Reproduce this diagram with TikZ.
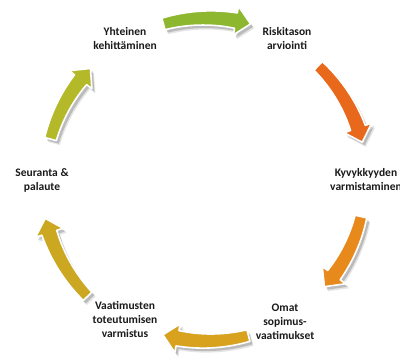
\documentclass[tikz,border=0pt]{standalone}
\usepackage{fontspec}
\setmainfont{Carlito}
\definecolor{cgreen}{HTML}{8DB72E}
\definecolor{cred}{HTML}{E8681C}
\definecolor{corange}{HTML}{E8891C}
\definecolor{cgold}{HTML}{D8A11E}
\definecolor{cmustard}{HTML}{CBA722}
\definecolor{colive}{HTML}{B4B92A}
\definecolor{txt}{HTML}{1A1A1A}
\newcommand{\cycarrow}[4]{% radius, tail angle, tip angle, colour
  \pgfmathsetmacro{\hl}{15/#1*180/pi}%
  \pgfmathsetmacro{\ah}{#3+\hl}%
  \pgfmathsetmacro{\rho}{#1+14.5}%
  \pgfmathsetmacro{\rhi}{#1-14.5}%
  \def\arrowpath{plot[domain=#2:\ah, samples=25] (\x:{#1+6+1.8*(\x-#2)/(\ah-#2)}) -- (\ah:\rho) -- (#3:#1) -- (\ah:\rhi) -- plot[domain=\ah:#2, samples=25] (\x:{#1-6-1.8*(\x-#2)/(\ah-#2)}) -- cycle}%
  \begin{scope}[shift={(c)}]
    \fill[black, opacity=0.10, shift={(3.5,-4.5)}] \arrowpath;
    \fill[black, opacity=0.18, shift={(2.5,-3)}] \arrowpath;
    \filldraw[fill=#4, draw=white, line width=1.6, line join=round] \arrowpath;
  \end{scope}}
\tikzset{lbl/.style={align=center, text=txt, font=\bfseries\fontsize{11.5}{14}\selectfont, inner sep=0pt}}
\begin{document}
\begin{tikzpicture}[x=1pt,y=1pt]
\useasboundingbox (0,0) rectangle (400,360);
\fill[white] (0,0) rectangle (400,360);
\coordinate (c) at (207,179);
\cycarrow{163}{105.5}{74.5}{cgreen}
\cycarrow{160}{46}{14}{cred}
\cycarrow{158}{-13}{-42}{corange}
\cycarrow{160}{-75}{-106}{cgold}
\cycarrow{166}{-136}{-167}{cmustard}
\cycarrow{162}{165}{136}{colive}
\node[lbl] (yk) at (125,321) {Yhteinen\\kehittäminen};
\node[lbl] (ra) at (287,321) {Riskitason\\arviointi};
\node[lbl] (kv) at (366,180) {Kyvykkyyden\\varmistaminen};
\node[lbl] (os) at (285,38) {Omat\\sopimus-\\vaatimukset};
\node[lbl] (vt) at (125,41) {Vaatimusten\\toteutumisen\\varmistus};
\node[lbl] (sp) at (42,180) {Seuranta \&\\palaute};
\end{tikzpicture}
\end{document}
